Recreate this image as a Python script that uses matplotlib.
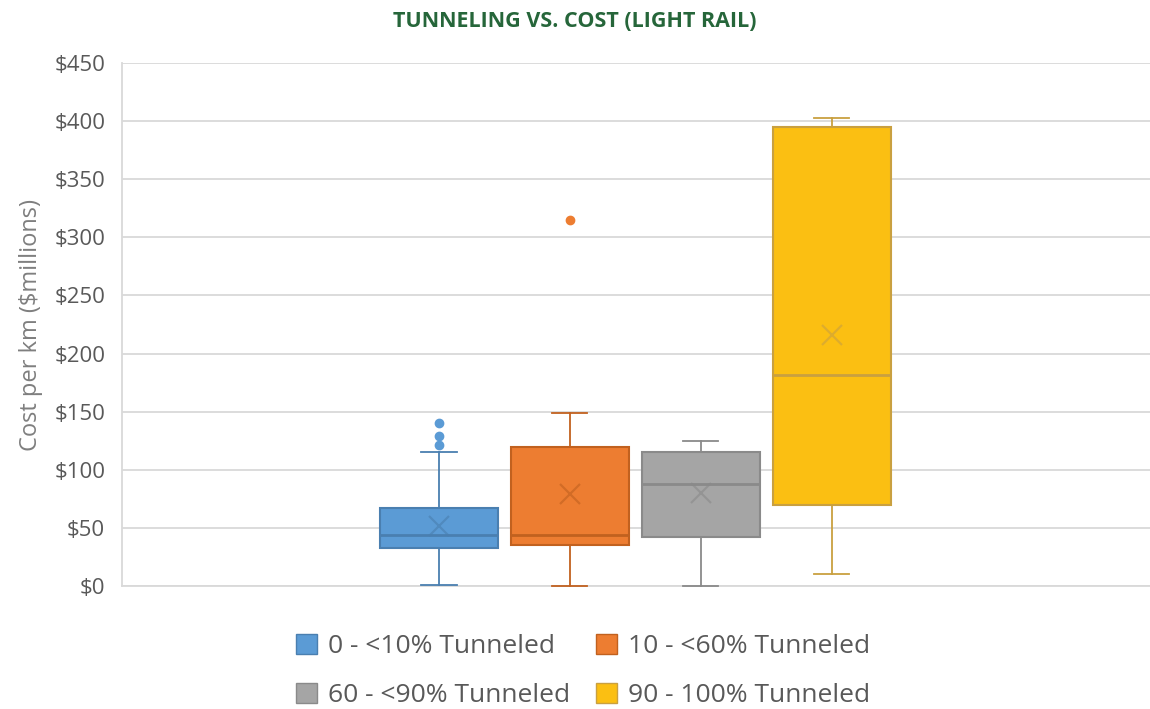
import matplotlib
matplotlib.use('Agg')
import matplotlib.pyplot as plt
from matplotlib.patches import Patch

plt.rcParams['font.family'] = ['Open Sans', 'DejaVu Sans']

# Box statistics ($ millions per km)
labels = ['0 - <10% Tunneled', '10 - <60% Tunneled', '60 - <90% Tunneled', '90 - 100% Tunneled']
q1 = [33, 35, 42, 70]
med = [44, 44, 88, 182]
q3 = [67, 120, 115, 395]
whislo = [1, 0, 0, 10]
whishi = [115, 149, 125, 403]
means = [52, 79, 80, 216]
fliers = [[121, 129, 140], [315], [], []]

fill_colors = ['#5B9BD5', '#ED7D31', '#A5A5A5', '#FBBF12']
edge_colors = ['#4A7FB0', '#C1611F', '#8A8A8A', '#C9A040']
text_color = '#595959'
grid_color = '#D9D9D9'

fig = plt.figure(figsize=(11.5, 7.09), dpi=100)
ax = fig.add_axes([0.106, 0.1735, 0.894, 0.7375])

for i in range(len(labels)):
    stats = [{
        'label': labels[i],
        'q1': q1[i], 'med': med[i], 'q3': q3[i],
        'whislo': whislo[i], 'whishi': whishi[i],
        'mean': means[i], 'fliers': fliers[i],
    }]
    ec = edge_colors[i]
    parts = ax.bxp(stats, positions=[i], widths=0.9, capwidths=0.27,
                   showmeans=True, patch_artist=True,
                   boxprops=dict(facecolor=fill_colors[i], edgecolor=ec, linewidth=1.5),
                   medianprops=dict(color=ec, linewidth=2),
                   whiskerprops=dict(color=ec, linewidth=1.3),
                   capprops=dict(color=ec, linewidth=1.3),
                   meanprops=dict(marker='x', markeredgecolor=ec, markersize=15,
                                  markeredgewidth=1.6, alpha=0.6),
                   flierprops=dict(marker='o', markerfacecolor=fill_colors[i],
                                   markeredgecolor=fill_colors[i], markersize=6))
    for art in parts['caps'] + parts['whiskers']:
        art.set_clip_on(False)
        art.set_zorder(4)

ax.set_xlim(-2.42, 5.43)
ax.set_ylim(0, 450)
ax.set_yticks(range(0, 451, 50))
ax.set_yticklabels(['$%d' % v for v in range(0, 451, 50)])
ax.set_xticks([])
ax.tick_params(axis='y', length=0, pad=12, labelsize=16, labelcolor=text_color)
ax.yaxis.grid(True, color=grid_color, linewidth=1.3)
ax.set_axisbelow(True)
for s in ['top', 'right']:
    ax.spines[s].set_visible(False)
for s in ['left', 'bottom']:
    ax.spines[s].set_color(grid_color)
    ax.spines[s].set_linewidth(1.3)

ax.set_ylabel('Cost per km ($millions)', fontsize=17, color='#7F7F7F', labelpad=8)

fig.text(0.5, 0.970, 'TUNNELING VS. COST (LIGHT RAIL)', ha='center', va='center',
         fontsize=15.5, fontweight='bold', color='#26663A')

handles = [Patch(facecolor=fill_colors[i], edgecolor=edge_colors[i], label=labels[i])
           for i in [0, 2, 1, 3]]
fig.legend(handles=handles, loc='center', bbox_to_anchor=(0.507, 1 - 671 / 709), ncol=2,
           frameon=False, fontsize=19, labelcolor=text_color,
           handlelength=0.8, handleheight=0.8, handletextpad=0.4,
           columnspacing=1.0, labelspacing=0.9)

fig.savefig('out.png', dpi=100)
